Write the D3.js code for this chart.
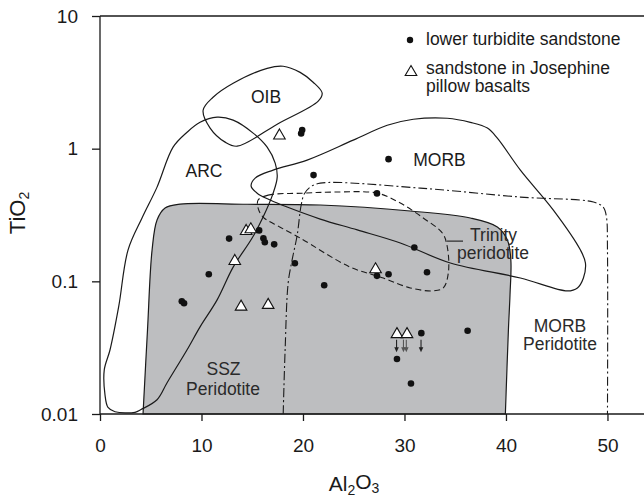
<!DOCTYPE html>
<html>
<head lang="en">
	<meta charset="UTF-8">
	<title></title>
	<script src="https://cdn.jsdelivr.net/npm/d3@7"></script>
	<style>
		body { margin: 0; background: #fff; }
		svg text { font-family: "Liberation Sans", Arial, sans-serif; fill: #1a1a1a; }
	</style>
</head>
<body>
<script>

	// axis ticks
	var xTicks = [0, 10, 20, 30, 40, 50];
	var yTicks = [0.01, 0.1, 1, 10];

	// lower turbidite sandstone (Al2O3, TiO2)
	var dotAl = [19.82, 19.92, 21.04, 28.43, 27.29, 30.97, 27.29, 28.43, 32.22, 22.09, 19.2, 15.68,
		12.72, 16.1, 16.24, 17.16, 10.72, 8.06, 8.28, 31.66, 36.22, 29.26, 30.64];
	var dotTi = [1.30, 1.38, 0.632, 0.834, 0.46, 0.18, 0.110, 0.113, 0.117, 0.0935, 0.137, 0.242,
		0.21, 0.211, 0.197, 0.19, 0.113, 0.0708, 0.0684, 0.0407, 0.0424, 0.026, 0.017];

	// sandstone in Josephine pillow basalts
	var triAl = [17.68, 14.4, 14.86, 13.28, 13.9, 16.57, 27.15, 29.26, 30.25];
	var triTi = [1.28, 0.244, 0.251, 0.145, 0.0656, 0.0676, 0.1255, 0.0407, 0.0407];

	// samples below detection (arrows)
	var limAl = [29.22, 29.9, 30.18, 31.63];
	var limTi = [0.0407, 0.0407, 0.0407, 0.0407];

	// field outlines [Al2O3, TiO2]
	var sszField = [[4.24, 0.01], [4.68, 0.043], [5.13, 0.172], [5.62, 0.29], [6.41, 0.357], [7.89, 0.382],
		[14.5, 0.381], [21.7, 0.376], [30.57, 0.339], [36.49, 0.30], [39.15, 0.257], [40.14, 0.205],
		[40.48, 0.145], [40.4, 0.08], [40.24, 0.043], [39.94, 0.01]];

	var arcField = [[4.04, 0.0108], [5.62, 0.0128], [6.61, 0.0172], [8.58, 0.0305], [9.86, 0.0454],
		[11.54, 0.0725], [13.12, 0.128], [14.99, 0.212], [16.07, 0.305], [17.06, 0.462], [17.46, 0.61],
		[17.26, 0.778], [16.47, 1.026], [15.09, 1.31], [13.12, 1.64], [11.54, 1.726], [9.86, 1.58],
		[8.58, 1.33], [7.2, 1.026], [5.62, 0.513], [4.14, 0.30], [2.76, 0.172], [1.85, 0.065],
		[0.99, 0.0305], [0.42, 0.0215], [0.49, 0.014], [0.79, 0.0112], [1.48, 0.0104], [3.45, 0.0103]];

	var oibField = [[10.16, 1.949], [11.14, 2.44], [13.12, 3.11], [16.47, 4.03], [18.05, 4.18], [19.72, 3.76],
		[21.0, 3.17], [21.89, 2.62], [21.5, 2.28], [17.46, 1.53], [13.51, 1.044], [12.33, 1.12], [10.85, 1.43]];

	var morbField = [[14.89, 0.522], [15.29, 0.60], [17.06, 0.689], [20.41, 0.82], [24.95, 1.159], [28.3, 1.50],
		[30.87, 1.667], [34.22, 1.696], [36.49, 1.58], [38.17, 1.43], [39.15, 1.2], [41.42, 0.689],
		[44.67, 0.3445], [47.34, 0.172], [47.83, 0.1375], [47.63, 0.106], [47.04, 0.0892], [46.06, 0.0847],
		[41.42, 0.106], [34.52, 0.1375], [29.59, 0.1945], [25.35, 0.244], [21.7, 0.2947], [18.44, 0.363],
		[16.77, 0.41], [15.48, 0.462]];

	var trinityField = [[15.58, 0.41], [16.57, 0.4467], [20.02, 0.462], [22.98, 0.4707], [27.32, 0.462],
		[29.59, 0.389], [31.85, 0.30], [33.73, 0.2313], [34.22, 0.1815], [34.32, 0.1156], [33.83, 0.0892],
		[32.84, 0.0847], [30.57, 0.0892], [27.91, 0.106], [24.65, 0.128], [19.72, 0.212], [17.75, 0.256],
		[16.07, 0.305], [15.58, 0.357]];

	var morbPeridField = [[18.05, 0.01], [18.24, 0.0305], [18.54, 0.0973], [18.93, 0.145], [19.43, 0.2234],
		[19.82, 0.376], [20.12, 0.4546], [20.71, 0.513], [21.7, 0.55], [31.56, 0.5044], [41.42, 0.4315],
		[48.62, 0.3958], [49.6, 0.361], [49.9, 0.305], [50, 0.172], [50, 0.01]];

	// field labels
	var labelText = ["OIB", "ARC", "MORB", "Trinity", "peridotite", "MORB", "Peridotite", "SSZ", "Peridotite"];
	var labelAl = [16.36, 10.25, 33.45, 36.46, 35.18, 45.32, 45.32, 12.17, 12.12];
	var labelTi = [2.21, 0.611, 0.74, 0.201, 0.147, 0.0415, 0.0304, 0.0197, 0.0139];
	var labelAnchor = ["middle", "middle", "middle", "start", "start", "middle", "middle", "middle", "middle"];

	var W = 644, H = 503;
	var svg = d3.select('body').append('svg').attr('width', W).attr('height', H);

	var x = d3.scaleLinear().domain([0, 53.6]).range([100, 644]);
	var y = d3.scaleLog().domain([0.01, 10]).range([414, 16]);

	var line = d3.line().x(function (d) { return x(d[0]); }).y(function (d) { return y(d[1]); });

	// SSZ peridotite (grey)
	svg.append('path')
		.attr('d', line.curve(d3.curveCatmullRom.alpha(0.5))(sszField) + 'Z')
		.attr('fill', '#bdbec0')
		.attr('stroke', '#1a1a1a')
		.attr('stroke-width', 1.2);

	// MORB peridotite (dash-dot)
	svg.append('path')
		.attr('d', line.curve(d3.curveCatmullRom.alpha(0.5))(morbPeridField))
		.attr('fill', 'none')
		.attr('stroke', '#1a1a1a')
		.attr('stroke-width', 1.1)
		.attr('stroke-dasharray', '9,3,2,3');

	// Trinity peridotite (dashed)
	svg.append('path')
		.attr('d', line.curve(d3.curveCatmullRomClosed.alpha(0.5))(trinityField))
		.attr('fill', 'none')
		.attr('stroke', '#1a1a1a')
		.attr('stroke-width', 1.1)
		.attr('stroke-dasharray', '6,3.5');

	[arcField, oibField, morbField].forEach(function (f) {
		svg.append('path')
			.attr('d', line.curve(d3.curveCatmullRomClosed.alpha(0.5))(f))
			.attr('fill', 'none')
			.attr('stroke', '#1a1a1a')
			.attr('stroke-width', 1.2);
	});

	// labels
	labelText.forEach(function (t, i) {
		svg.append('text')
			.attr('x', x(labelAl[i]))
			.attr('y', y(labelTi[i]))
			.attr('text-anchor', labelAnchor[i])
			.style('font-size', '17.5px')
			.style('fill', i >= 3 ? '#2a2a2a' : '#1a1a1a')
			.text(t);
	});
	// Trinity leader
	svg.append('line')
		.attr('x1', x(labelAl[3]) - 23).attr('x2', x(labelAl[3]) - 7)
		.attr('y1', y(labelTi[3])).attr('y2', y(labelTi[3]))
		.attr('stroke', '#1a1a1a').attr('stroke-width', 1.1);

	// axes
	var frame = svg.append('g').attr('stroke', '#1a1a1a').attr('stroke-width', 1.3);
	frame.append('line').attr('x1', x(0)).attr('x2', W).attr('y1', y(10)).attr('y2', y(10));
	frame.append('line').attr('x1', x(0)).attr('x2', W).attr('y1', y(0.01)).attr('y2', y(0.01));
	frame.append('line').attr('x1', x(0)).attr('x2', x(0)).attr('y1', y(10)).attr('y2', y(0.01));

	var gx = svg.append('g').attr('transform', 'translate(0,' + y(0.01) + ')')
		.call(d3.axisBottom(x).tickValues(xTicks).tickSize(7).tickPadding(18).tickFormat(d3.format('d')));
	var gy = svg.append('g').attr('transform', 'translate(' + x(0) + ',0)')
		.call(d3.axisLeft(y).tickValues(yTicks).tickSize(8).tickPadding(14).tickFormat(function (d) { return String(d); }));
	[gx, gy].forEach(function (g) {
		g.select('.domain').remove();
		g.selectAll('line').attr('stroke', '#1a1a1a').attr('stroke-width', 1.3);
		g.selectAll('text').style('font-size', '19px').style('font-family', '"Liberation Sans", Arial, sans-serif');
	});

	// axis titles
	var tx = svg.append('text')
		.attr('transform', 'translate(25,213) rotate(-90)')
		.attr('text-anchor', 'middle')
		.style('font-size', '22px');
	tx.append('tspan').text('TiO');
	tx.append('tspan').attr('dy', '0.3em').style('font-size', '14px').text('2');

	var ax = svg.append('text')
		.attr('x', 354).attr('y', 491)
		.attr('text-anchor', 'middle')
		.style('font-size', '21px');
	ax.append('tspan').text('Al');
	ax.append('tspan').attr('dy', '0.3em').style('font-size', '14px').text('2');
	ax.append('tspan').attr('dy', '-0.3em').text('O');
	ax.append('tspan').attr('dy', '0.3em').style('font-size', '14px').text('3');

	// arrows
	limAl.forEach(function (a, i) {
		var px = x(a), py = y(limTi[i]);
		var c = i === 1 || i === 2 ? '#555' : '#222';
		svg.append('line').attr('x1', px).attr('x2', px).attr('y1', py + 6.5).attr('y2', py + 16)
			.attr('stroke', c).attr('stroke-width', 1.1);
		svg.append('path').attr('d', 'M' + (px - 2.3) + ',' + (py + 14) + 'L' + px + ',' + (py + 19) + 'L' + (px + 2.3) + ',' + (py + 14) + 'Z')
			.attr('fill', c);
	});

	var tri = 'M0,-5.5L5.8,4.5L-5.8,4.5Z';

	// points
	svg.selectAll('circle.dot').data(dotAl).enter().append('circle')
		.attr('class', 'dot')
		.attr('cx', function (d) { return x(d); })
		.attr('cy', function (d, i) { return y(dotTi[i]); })
		.attr('r', 3.3)
		.attr('fill', '#111');

	svg.selectAll('path.tri').data(triAl).enter().append('path')
		.attr('class', 'tri')
		.attr('d', tri)
		.attr('transform', function (d, i) { return 'translate(' + x(d) + ',' + y(triTi[i]) + ')'; })
		.attr('fill', '#fff')
		.attr('stroke', '#111')
		.attr('stroke-width', 1.1);

	// legend
	svg.append('circle').attr('cx', 410).attr('cy', 40).attr('r', 3.2).attr('fill', '#111');
	svg.append('text').attr('x', 426).attr('y', 45).style('font-size', '17.5px').text('lower turbidite sandstone');
	svg.append('path').attr('d', tri).attr('transform', 'translate(411,71)')
		.attr('fill', '#fff').attr('stroke', '#111').attr('stroke-width', 1.1);
	svg.append('text').attr('x', 426).attr('y', 74).style('font-size', '17.5px').text('sandstone in Josephine');
	svg.append('text').attr('x', 426).attr('y', 92).style('font-size', '17.5px').text('pillow basalts');

</script>
</body>
</html>
